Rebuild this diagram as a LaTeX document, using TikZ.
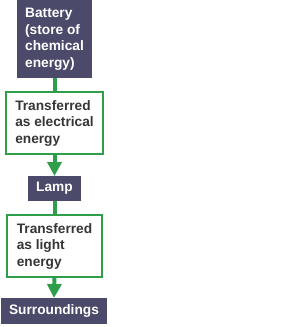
\documentclass[tikz,border=0pt]{standalone}
\usepackage{fontspec}
\setmainfont{Liberation Sans}
\usetikzlibrary{arrows.meta,positioning}
\definecolor{StoreInk}{HTML}{4B4A6B}
\definecolor{FlowGreen}{HTML}{2E9E4A}
\definecolor{TextGrey}{HTML}{363636}

\begin{document}
\begin{tikzpicture}[x=1pt,y=-1pt,
    boxfont/.style={font=\bfseries\fontsize{13.7}{16.5}\selectfont},
    store/.style={boxfont,fill=StoreInk,text=white,inner sep=0pt,align=left},
    transfer/.style={boxfont,draw=FlowGreen,line width=2.2pt,fill=white,
                     text=TextGrey,inner sep=0pt,align=left},
    link/.style={FlowGreen,line width=4pt},
    flow/.style={link,-{Triangle[width=14pt,length=14pt]}}]
  \useasboundingbox[fill=white] (0,0) rectangle (304,327);
  % stores and transfers, top to bottom
  \node[store,minimum width=75pt,minimum height=78pt,
        anchor=north] (battery) at (54.5,0)
    {Battery\\(store of\\chemical\\energy)};
  \node[transfer,minimum width=97pt,minimum height=62pt,
        anchor=north] (electrical) at (54.5,91)
    {Transferred\\as electrical\\energy};
  \node[store,align=center,minimum width=53pt,minimum height=25pt,
        anchor=north] (lamp) at (54.5,176) {Lamp};
  \node[transfer,minimum width=95pt,minimum height=62pt,
        anchor=north] (light) at (54.5,214)
    {Transferred\\as light\\energy};
  \node[store,align=center,minimum width=106pt,minimum height=26pt,
        anchor=north] (surroundings) at (54,298) {Surroundings};
  % connectors
  \draw[link] (battery.south) -- (electrical.north);
  \draw[flow] (electrical.south) -- (lamp.north);
  \draw[link] (lamp.south) -- (light.north);
  \draw[flow] (light.south) -- (surroundings.north);
\end{tikzpicture}
\end{document}
